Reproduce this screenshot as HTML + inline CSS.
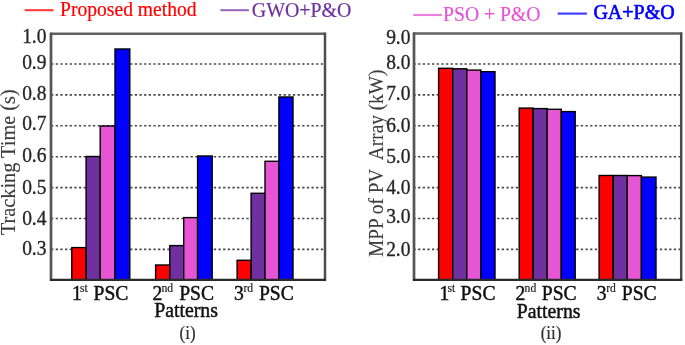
<!DOCTYPE html><html><head><meta charset="utf-8"><style>html,body{margin:0;padding:0;background:#fff;}svg{display:block}text{font-family:"Liberation Serif",serif;}svg{filter:blur(0.6px)}</style></head><body>
<svg width="685" height="345" viewBox="0 0 685 345">
<rect x="0" y="0" width="685" height="345" fill="#fff"/>
<line x1="51.07" y1="64.00" x2="324.00" y2="64.00" stroke="#4a4a4a" stroke-width="1.6" stroke-dasharray="2.3 2.35"/>
<line x1="51.07" y1="94.90" x2="324.00" y2="94.90" stroke="#4a4a4a" stroke-width="1.6" stroke-dasharray="2.3 2.35"/>
<line x1="51.07" y1="125.80" x2="324.00" y2="125.80" stroke="#4a4a4a" stroke-width="1.6" stroke-dasharray="2.3 2.35"/>
<line x1="51.07" y1="156.70" x2="324.00" y2="156.70" stroke="#4a4a4a" stroke-width="1.6" stroke-dasharray="2.3 2.35"/>
<line x1="51.07" y1="187.60" x2="324.00" y2="187.60" stroke="#4a4a4a" stroke-width="1.6" stroke-dasharray="2.3 2.35"/>
<line x1="51.07" y1="218.50" x2="324.00" y2="218.50" stroke="#4a4a4a" stroke-width="1.6" stroke-dasharray="2.3 2.35"/>
<line x1="51.07" y1="249.40" x2="324.00" y2="249.40" stroke="#4a4a4a" stroke-width="1.6" stroke-dasharray="2.3 2.35"/>
<rect x="71.80" y="247.60" width="14.30" height="32.20" fill="#ff0000" stroke="#000" stroke-width="1.4"/>
<rect x="86.10" y="156.50" width="14.10" height="123.30" fill="#7030a0" stroke="#000" stroke-width="1.4"/>
<rect x="100.20" y="126.00" width="14.80" height="153.80" fill="#e555d4" stroke="#000" stroke-width="1.4"/>
<rect x="115.00" y="49.00" width="14.80" height="230.80" fill="#0000ff" stroke="#000" stroke-width="1.4"/>
<rect x="155.60" y="265.00" width="14.20" height="14.80" fill="#ff0000" stroke="#000" stroke-width="1.4"/>
<rect x="169.80" y="245.60" width="13.90" height="34.20" fill="#7030a0" stroke="#000" stroke-width="1.4"/>
<rect x="183.70" y="217.60" width="13.90" height="62.20" fill="#e555d4" stroke="#000" stroke-width="1.4"/>
<rect x="197.60" y="156.00" width="14.60" height="123.80" fill="#0000ff" stroke="#000" stroke-width="1.4"/>
<rect x="237.10" y="260.30" width="14.00" height="19.50" fill="#ff0000" stroke="#000" stroke-width="1.4"/>
<rect x="251.10" y="193.30" width="13.90" height="86.50" fill="#7030a0" stroke="#000" stroke-width="1.4"/>
<rect x="265.00" y="161.30" width="13.90" height="118.50" fill="#e555d4" stroke="#000" stroke-width="1.4"/>
<rect x="278.90" y="97.00" width="14.10" height="182.80" fill="#0000ff" stroke="#000" stroke-width="1.4"/>
<line x1="50.00" y1="33.70" x2="326.00" y2="33.70" stroke="#626262" stroke-width="2.4"/>
<line x1="325.00" y1="32.70" x2="325.00" y2="280.80" stroke="#4c4c4c" stroke-width="2.5"/>
<line x1="51.00" y1="32.70" x2="51.00" y2="280.80" stroke="#555555" stroke-width="2.7"/>
<line x1="50.00" y1="279.80" x2="326.00" y2="279.80" stroke="#2a2a2a" stroke-width="2.3"/>
<text font-size="19.5" text-anchor="end" stroke-width="0.3" fill="#262626" stroke="#262626" transform="translate(46.50,42.60) scale(1,1.06)">1.0</text>
<text font-size="19.5" text-anchor="end" stroke-width="0.3" fill="#262626" stroke="#262626" transform="translate(46.50,68.60) scale(1,1.06)">0.9</text>
<text font-size="19.5" text-anchor="end" stroke-width="0.3" fill="#262626" stroke="#262626" transform="translate(46.50,99.90) scale(1,1.06)">0.8</text>
<text font-size="19.5" text-anchor="end" stroke-width="0.3" fill="#262626" stroke="#262626" transform="translate(46.50,130.10) scale(1,1.06)">0.7</text>
<text font-size="19.5" text-anchor="end" stroke-width="0.3" fill="#262626" stroke="#262626" transform="translate(46.50,161.60) scale(1,1.06)">0.6</text>
<text font-size="19.5" text-anchor="end" stroke-width="0.3" fill="#262626" stroke="#262626" transform="translate(46.50,193.60) scale(1,1.06)">0.5</text>
<text font-size="19.5" text-anchor="end" stroke-width="0.3" fill="#262626" stroke="#262626" transform="translate(46.50,224.60) scale(1,1.06)">0.4</text>
<text font-size="19.5" text-anchor="end" stroke-width="0.3" fill="#262626" stroke="#262626" transform="translate(46.50,254.60) scale(1,1.06)">0.3</text>
<line x1="413.40" y1="64.00" x2="680.20" y2="64.00" stroke="#4a4a4a" stroke-width="1.6" stroke-dasharray="2.3 2.35"/>
<line x1="413.40" y1="94.90" x2="680.20" y2="94.90" stroke="#4a4a4a" stroke-width="1.6" stroke-dasharray="2.3 2.35"/>
<line x1="413.40" y1="125.80" x2="680.20" y2="125.80" stroke="#4a4a4a" stroke-width="1.6" stroke-dasharray="2.3 2.35"/>
<line x1="413.40" y1="156.70" x2="680.20" y2="156.70" stroke="#4a4a4a" stroke-width="1.6" stroke-dasharray="2.3 2.35"/>
<line x1="413.40" y1="187.60" x2="680.20" y2="187.60" stroke="#4a4a4a" stroke-width="1.6" stroke-dasharray="2.3 2.35"/>
<line x1="413.40" y1="218.50" x2="680.20" y2="218.50" stroke="#4a4a4a" stroke-width="1.6" stroke-dasharray="2.3 2.35"/>
<line x1="413.40" y1="249.40" x2="680.20" y2="249.40" stroke="#4a4a4a" stroke-width="1.6" stroke-dasharray="2.3 2.35"/>
<rect x="438.60" y="68.30" width="14.10" height="211.50" fill="#ff0000" stroke="#000" stroke-width="1.4"/>
<rect x="452.70" y="68.80" width="14.10" height="211.00" fill="#7030a0" stroke="#000" stroke-width="1.4"/>
<rect x="466.80" y="70.10" width="14.10" height="209.70" fill="#e555d4" stroke="#000" stroke-width="1.4"/>
<rect x="480.90" y="71.70" width="14.10" height="208.10" fill="#0000ff" stroke="#000" stroke-width="1.4"/>
<rect x="519.20" y="108.10" width="13.90" height="171.70" fill="#ff0000" stroke="#000" stroke-width="1.4"/>
<rect x="533.10" y="108.60" width="14.10" height="171.20" fill="#7030a0" stroke="#000" stroke-width="1.4"/>
<rect x="547.20" y="109.30" width="14.10" height="170.50" fill="#e555d4" stroke="#000" stroke-width="1.4"/>
<rect x="561.30" y="111.60" width="13.90" height="168.20" fill="#0000ff" stroke="#000" stroke-width="1.4"/>
<rect x="599.10" y="175.50" width="14.10" height="104.30" fill="#ff0000" stroke="#000" stroke-width="1.4"/>
<rect x="613.20" y="175.50" width="14.10" height="104.30" fill="#7030a0" stroke="#000" stroke-width="1.4"/>
<rect x="627.30" y="175.60" width="14.10" height="104.20" fill="#e555d4" stroke="#000" stroke-width="1.4"/>
<rect x="641.40" y="177.10" width="14.60" height="102.70" fill="#0000ff" stroke="#000" stroke-width="1.4"/>
<line x1="413.00" y1="33.50" x2="682.20" y2="33.50" stroke="#626262" stroke-width="2.4"/>
<line x1="681.20" y1="32.50" x2="681.20" y2="280.80" stroke="#4c4c4c" stroke-width="2.5"/>
<line x1="414.00" y1="32.50" x2="414.00" y2="280.80" stroke="#555555" stroke-width="2.7"/>
<line x1="413.00" y1="279.80" x2="682.20" y2="279.80" stroke="#2a2a2a" stroke-width="2.3"/>
<text font-size="19.5" text-anchor="end" stroke-width="0.3" fill="#262626" stroke="#262626" transform="translate(410.50,44.10) scale(1,1.06)">9.0</text>
<text font-size="19.5" text-anchor="end" stroke-width="0.3" fill="#262626" stroke="#262626" transform="translate(410.50,68.60) scale(1,1.06)">8.0</text>
<text font-size="19.5" text-anchor="end" stroke-width="0.3" fill="#262626" stroke="#262626" transform="translate(410.50,99.80) scale(1,1.06)">7.0</text>
<text font-size="19.5" text-anchor="end" stroke-width="0.3" fill="#262626" stroke="#262626" transform="translate(410.50,131.50) scale(1,1.06)">6.0</text>
<text font-size="19.5" text-anchor="end" stroke-width="0.3" fill="#262626" stroke="#262626" transform="translate(410.50,162.60) scale(1,1.06)">5.0</text>
<text font-size="19.5" text-anchor="end" stroke-width="0.3" fill="#262626" stroke="#262626" transform="translate(410.50,193.60) scale(1,1.06)">4.0</text>
<text font-size="19.5" text-anchor="end" stroke-width="0.3" fill="#262626" stroke="#262626" transform="translate(410.50,223.10) scale(1,1.06)">3.0</text>
<text font-size="19.5" text-anchor="end" stroke-width="0.3" fill="#262626" stroke="#262626" transform="translate(410.50,255.60) scale(1,1.06)">2.0</text>
<line x1="24.7" y1="10.2" x2="53.6" y2="10.2" stroke="#ff0000" stroke-width="2" stroke-opacity="0.8"/>
<text font-size="19.6" stroke-width="0.2" fill="#ff0000" stroke="#ff0000" transform="translate(60,16.2) scale(1,1.06)">Proposed method</text>
<line x1="220.4" y1="10.2" x2="248.9" y2="10.2" stroke="#7030a0" stroke-width="2" stroke-opacity="0.75"/>
<text font-size="19.9" stroke-width="0.2" fill="#7030a0" stroke="#7030a0" transform="translate(251.8,17.4) scale(1,1.06)">GWO+P&amp;O</text>
<line x1="413.3" y1="15" x2="442" y2="15" stroke="#e555d4" stroke-width="2.1" stroke-opacity="0.75"/>
<text font-size="19.7" stroke-width="0.2" fill="#e555d4" stroke="#e555d4" transform="translate(443,20.6) scale(1,1.06)">PSO + P&amp;O</text>
<line x1="557.7" y1="13.6" x2="586.9" y2="13.6" stroke="#0000ff" stroke-width="2.2" stroke-opacity="0.75"/>
<text font-size="20" stroke-width="0.6" fill="#0000ff" stroke="#0000ff" transform="translate(593.4,19.2) scale(1,1.06)">GA+P&amp;O</text>
<text font-size="19.6" fill="#111" stroke="#111" stroke-width="0.45" transform="translate(72.0,299.9) scale(1,1.06)">1</text>
<text font-size="11.6" stroke-width="0.2" fill="#222" stroke="#222" transform="translate(79.9,291.59999999999997) scale(1,1.06)">st</text>
<text font-size="19.6" fill="#111" stroke="#111" stroke-width="0.45" transform="translate(93.5,299.9) scale(1,1.06)">PSC</text>
<text font-size="19.6" fill="#111" stroke="#111" stroke-width="0.45" transform="translate(152.4,299.9) scale(1,1.06)">2</text>
<text font-size="11.6" stroke-width="0.2" fill="#222" stroke="#222" transform="translate(161.4,291.59999999999997) scale(1,1.06)">nd</text>
<text font-size="19.6" fill="#111" stroke="#111" stroke-width="0.45" transform="translate(179.2,299.9) scale(1,1.06)">PSC</text>
<text font-size="19.6" fill="#111" stroke="#111" stroke-width="0.45" transform="translate(233.9,299.9) scale(1,1.06)">3</text>
<text font-size="11.6" stroke-width="0.2" fill="#222" stroke="#222" transform="translate(243.4,291.59999999999997) scale(1,1.06)">rd</text>
<text font-size="19.6" fill="#111" stroke="#111" stroke-width="0.45" transform="translate(258.9,299.9) scale(1,1.06)">PSC</text>
<text font-size="19.6" fill="#111" stroke="#111" stroke-width="0.45" transform="translate(439.6,299.9) scale(1,1.06)">1</text>
<text font-size="11.6" stroke-width="0.2" fill="#222" stroke="#222" transform="translate(447.5,291.59999999999997) scale(1,1.06)">st</text>
<text font-size="19.6" fill="#111" stroke="#111" stroke-width="0.45" transform="translate(460.6,299.9) scale(1,1.06)">PSC</text>
<text font-size="19.6" fill="#111" stroke="#111" stroke-width="0.45" transform="translate(515.6,299.9) scale(1,1.06)">2</text>
<text font-size="11.6" stroke-width="0.2" fill="#222" stroke="#222" transform="translate(524.6,291.59999999999997) scale(1,1.06)">nd</text>
<text font-size="19.6" fill="#111" stroke="#111" stroke-width="0.45" transform="translate(541.8,299.9) scale(1,1.06)">PSC</text>
<text font-size="19.6" fill="#111" stroke="#111" stroke-width="0.45" transform="translate(596.8,299.9) scale(1,1.06)">3</text>
<text font-size="11.6" stroke-width="0.2" fill="#222" stroke="#222" transform="translate(606.2,291.59999999999997) scale(1,1.06)">rd</text>
<text font-size="19.6" fill="#111" stroke="#111" stroke-width="0.45" transform="translate(621.8,299.9) scale(1,1.06)">PSC</text>
<text font-size="19.8" fill="#111" stroke="#111" stroke-width="0.45" transform="translate(154.2,316.5) scale(1,1.06)">Patterns</text>
<text font-size="19.8" fill="#111" stroke="#111" stroke-width="0.45" transform="translate(516.8,317.8) scale(1,1.06)">Patterns</text>
<text font-size="17" text-anchor="middle" stroke-width="0.2" fill="#333" stroke="#333" transform="translate(187.6,338.8) scale(1,1.06)">(i)</text>
<text font-size="17" text-anchor="middle" stroke-width="0.2" fill="#333" stroke="#333" transform="translate(551,338.8) scale(1,1.06)">(ii)</text>
<text transform="translate(15.4,162.2) rotate(-90) scale(1,1.06)" text-anchor="middle" font-size="20.3" stroke-width="0.1" fill="#3c3c3c" stroke="#3c3c3c">Tracking Time (s)</text>
<text transform="translate(383.3,163.3) rotate(-90) scale(1,1.06)" text-anchor="middle" font-size="19.3" stroke-width="0.1" fill="#3c3c3c" stroke="#3c3c3c">MPP of PV&#160; Array (kW)</text>
</svg></body></html>
